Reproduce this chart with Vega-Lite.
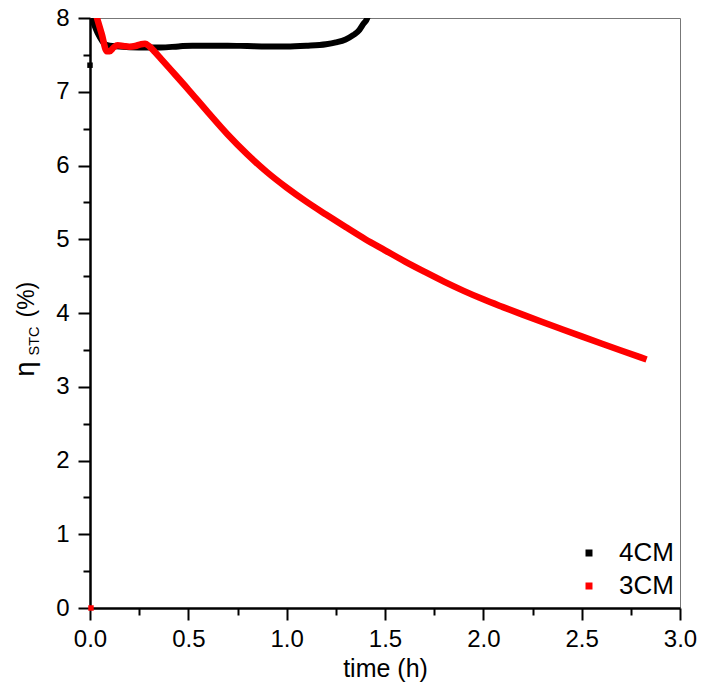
{
  "$schema": "https://vega.github.io/schema/vega-lite/v6.json",
  "width": 590,
  "height": 590,
  "autosize": "none",
  "padding": {"left": 90, "top": 18, "right": 22, "bottom": 82},
  "background": "white",
  "config": {
    "font": "Liberation Sans",
    "view": {"stroke": "#777777", "strokeWidth": 1},
    "axis": {"grid": false, "domainColor": "black", "tickColor": "black", "labelColor": "black", "titleColor": "black", "titleFontWeight": "normal", "labelFont": "Liberation Sans", "titleFont": "Liberation Sans", "labelFlush": false}
  },
  "datasets": {
    "lines": [
      {"series": "4CM", "t": 0.008, "eta": 8.0},
      {"series": "4CM", "t": 0.04, "eta": 7.79},
      {"series": "4CM", "t": 0.076, "eta": 7.645},
      {"series": "4CM", "t": 0.1, "eta": 7.625},
      {"series": "4CM", "t": 0.15, "eta": 7.615},
      {"series": "4CM", "t": 0.2, "eta": 7.605},
      {"series": "4CM", "t": 0.3, "eta": 7.6},
      {"series": "4CM", "t": 0.36, "eta": 7.6},
      {"series": "4CM", "t": 0.45, "eta": 7.615},
      {"series": "4CM", "t": 0.52, "eta": 7.625},
      {"series": "4CM", "t": 0.6, "eta": 7.625},
      {"series": "4CM", "t": 0.7, "eta": 7.625},
      {"series": "4CM", "t": 0.8, "eta": 7.62},
      {"series": "4CM", "t": 0.9, "eta": 7.615},
      {"series": "4CM", "t": 1.0, "eta": 7.615},
      {"series": "4CM", "t": 1.1, "eta": 7.625},
      {"series": "4CM", "t": 1.2, "eta": 7.645},
      {"series": "4CM", "t": 1.25, "eta": 7.67},
      {"series": "4CM", "t": 1.3, "eta": 7.71},
      {"series": "4CM", "t": 1.34, "eta": 7.77},
      {"series": "4CM", "t": 1.37, "eta": 7.84},
      {"series": "4CM", "t": 1.39, "eta": 7.92},
      {"series": "4CM", "t": 1.41, "eta": 8.0},
      {"series": "4CM", "t": 1.42, "eta": 8.1},
      {"series": "3CM", "t": 0.03, "eta": 8.05},
      {"series": "3CM", "t": 0.06, "eta": 7.78},
      {"series": "3CM", "t": 0.085, "eta": 7.55},
      {"series": "3CM", "t": 0.1, "eta": 7.55},
      {"series": "3CM", "t": 0.12, "eta": 7.6},
      {"series": "3CM", "t": 0.14, "eta": 7.63},
      {"series": "3CM", "t": 0.17, "eta": 7.62},
      {"series": "3CM", "t": 0.2, "eta": 7.61},
      {"series": "3CM", "t": 0.23, "eta": 7.62},
      {"series": "3CM", "t": 0.26, "eta": 7.645},
      {"series": "3CM", "t": 0.28, "eta": 7.65},
      {"series": "3CM", "t": 0.3, "eta": 7.62},
      {"series": "3CM", "t": 0.33, "eta": 7.54},
      {"series": "3CM", "t": 0.36, "eta": 7.45},
      {"series": "3CM", "t": 0.4, "eta": 7.33},
      {"series": "3CM", "t": 0.5, "eta": 7.03},
      {"series": "3CM", "t": 0.6, "eta": 6.72},
      {"series": "3CM", "t": 0.7, "eta": 6.42},
      {"series": "3CM", "t": 0.8, "eta": 6.15},
      {"series": "3CM", "t": 0.9, "eta": 5.91},
      {"series": "3CM", "t": 1.0, "eta": 5.7},
      {"series": "3CM", "t": 1.1, "eta": 5.51},
      {"series": "3CM", "t": 1.2, "eta": 5.335},
      {"series": "3CM", "t": 1.3, "eta": 5.165},
      {"series": "3CM", "t": 1.4, "eta": 5.0},
      {"series": "3CM", "t": 1.5, "eta": 4.85},
      {"series": "3CM", "t": 1.6, "eta": 4.7},
      {"series": "3CM", "t": 1.7, "eta": 4.56},
      {"series": "3CM", "t": 1.8, "eta": 4.425},
      {"series": "3CM", "t": 1.9, "eta": 4.3},
      {"series": "3CM", "t": 2.0, "eta": 4.185},
      {"series": "3CM", "t": 2.1, "eta": 4.08},
      {"series": "3CM", "t": 2.2, "eta": 3.978},
      {"series": "3CM", "t": 2.3, "eta": 3.878},
      {"series": "3CM", "t": 2.4, "eta": 3.78},
      {"series": "3CM", "t": 2.5, "eta": 3.683},
      {"series": "3CM", "t": 2.6, "eta": 3.587},
      {"series": "3CM", "t": 2.7, "eta": 3.492},
      {"series": "3CM", "t": 2.8, "eta": 3.398},
      {"series": "3CM", "t": 2.83, "eta": 3.37}
    ],
    "dots": [
      {"series": "4CM", "t": 0.0, "eta": 7.36},
      {"series": "3CM", "t": 0.005, "eta": 0.0}
    ]
  },
  "resolve": {
    "scale": {"x": "shared", "y": "shared", "color": "shared"},
    "axis": {"x": "independent", "y": "independent"}
  },
  "layer": [
    {
      "data": {"name": "lines"},
      "transform": [{"filter": "datum.series === '4CM'"}],
      "mark": {"type": "line", "strokeWidth": 6, "clip": true, "interpolate": "monotone"},
      "encoding": {
        "x": {"field": "t", "type": "quantitative",
          "scale": {"domain": [0, 3], "nice": false, "zero": false},
          "axis": {"orient": "bottom", "values": [0, 0.5, 1, 1.5, 2, 2.5, 3], "format": ".1f", "tickSize": 12, "tickWidth": 2, "domainWidth": 2.5, "labelFontSize": 24, "labelPadding": 7, "title": "time (h)", "titleFontSize": 25, "titlePadding": 5}},
        "y": {"field": "eta", "type": "quantitative",
          "scale": {"domain": [0, 8], "nice": false, "zero": false},
          "axis": {"orient": "left", "values": [0, 1, 2, 3, 4, 5, 6, 7, 8], "format": "d", "tickSize": 12, "tickWidth": 2, "domainWidth": 2.5, "labelFontSize": 24, "labelPadding": 9, "title": "η", "titleFontSize": 27, "titleAngle": -90, "titleAlign": "left", "titleBaseline": "alphabetic", "titleX": -57, "titleY": 358}},
        "color": {"field": "series", "type": "nominal",
          "scale": {"domain": ["4CM", "3CM"], "range": ["#000000", "#ff0000"]},
          "legend": {"orient": "none", "legendX": 486, "legendY": 522, "title": null, "labelFontSize": 26, "symbolType": "square", "symbolSize": 30, "labelOffset": 17, "rowPadding": 7,
            "encode": {"symbols": {"update": {"fill": {"scale": "color", "field": "value"}, "stroke": {"value": "transparent"}}}}}}
      }
    },
    {
      "data": {"name": "lines"},
      "transform": [{"filter": "datum.series === '3CM'"}],
      "mark": {"type": "line", "strokeWidth": 6.5, "clip": true, "interpolate": "monotone"},
      "encoding": {
        "x": {"field": "t", "type": "quantitative",
          "axis": {"orient": "bottom", "values": [0.25, 0.75, 1.25, 1.75, 2.25, 2.75], "tickSize": 7, "tickWidth": 2, "domain": false, "labels": false, "title": null}},
        "y": {"field": "eta", "type": "quantitative",
          "axis": {"orient": "left", "values": [0.5, 1.5, 2.5, 3.5, 4.5, 5.5, 6.5, 7.5], "tickSize": 7, "tickWidth": 2, "domain": false, "labels": false, "title": "STC", "titleFontSize": 14.5, "titleAngle": -90, "titleAlign": "left", "titleBaseline": "alphabetic", "titleX": -52, "titleY": 337}},
        "color": {"field": "series", "type": "nominal",
          "legend": {"orient": "none", "legendX": 486, "legendY": 522, "title": null, "labelFontSize": 26, "symbolType": "square", "symbolSize": 30, "labelOffset": 17, "rowPadding": 7,
            "encode": {"symbols": {"update": {"fill": {"scale": "color", "field": "value"}, "stroke": {"value": "transparent"}}}}}}
      }
    },
    {
      "data": {"name": "dots"},
      "mark": {"type": "point", "shape": "square", "filled": true, "size": 30, "opacity": 1, "clip": false},
      "encoding": {
        "x": {"field": "t", "type": "quantitative", "axis": null},
        "y": {"field": "eta", "type": "quantitative",
          "axis": {"orient": "left", "values": [0], "ticks": false, "domain": false, "labels": false, "title": "(%)", "titleFontSize": 23, "titleAngle": -90, "titleAlign": "left", "titleBaseline": "alphabetic", "titleX": -57, "titleY": 299}},
        "color": {"field": "series", "type": "nominal",
          "legend": {"orient": "none", "legendX": 486, "legendY": 522, "title": null, "labelFontSize": 26, "symbolType": "square", "symbolSize": 30, "labelOffset": 17, "rowPadding": 7,
            "encode": {"symbols": {"update": {"fill": {"scale": "color", "field": "value"}, "stroke": {"value": "transparent"}}}}}}
      }
    }
  ]
}
